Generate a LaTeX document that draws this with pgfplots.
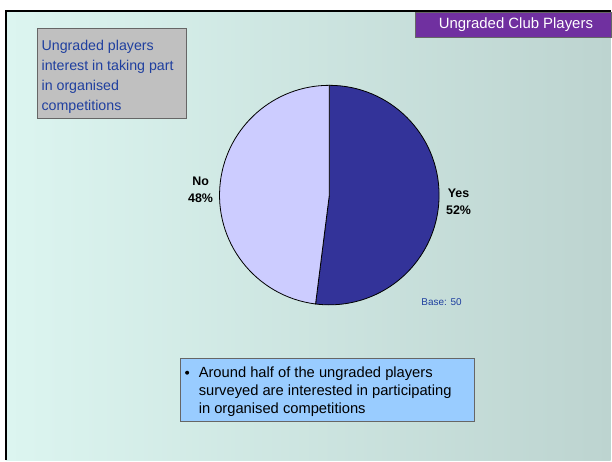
\documentclass[border=0pt]{standalone}
\usepackage{pgfplots}
\pgfplotsset{compat=1.18}
\usepackage{pgfplotstable}
\usepackage{fontspec}
\setmainfont{Liberation Sans}
\definecolor{bgL}{HTML}{DCF5F0}
\definecolor{bgR}{HTML}{BDD4D0}
\definecolor{purp}{HTML}{7030A0}
\definecolor{yescol}{HTML}{333399}
\definecolor{nocol}{HTML}{CCCCFF}
\definecolor{txtblue}{HTML}{1F3F9F}
\definecolor{boxblue}{HTML}{99CCFF}
\definecolor{boxgray}{HTML}{C0C0C0}
\pgfplotstableread{
label value
Yes 52
No 48
}\piedata
\begin{document}
\begin{tikzpicture}[x=1bp,y=-1bp]
\pgfplotstablegetelem{0}{value}\of\piedata \edef\yesv{\pgfplotsretval}
\pgfplotstablegetelem{1}{value}\of\piedata \edef\nov{\pgfplotsretval}
\pgfmathsetmacro\aend{90-3.6*\yesv}
\pgfmathsetmacro\ayes{-3.6*\yesv}
\pgfmathsetmacro\ano{-3.6*\nov}
\fill[white] (0,0) rectangle (612,461);
\shade[left color=bgL,right color=bgR] (6,11) rectangle (612,461);
\draw[black,line width=2bp] (6,461) -- (6,11) -- (612,11);
% title box
\filldraw[fill=purp,draw=black!60,line width=0.6bp] (416,12) rectangle (613,37);
\node[text=white,font=\fontsize{15}{18}\selectfont,inner sep=0] at (517,24.5) {Ungraded Club Players};
% gray box
\filldraw[fill=boxgray,draw=black!60,line width=0.8bp] (37,28) rectangle (187,119);
\node[anchor=north west,align=left,inner sep=0,text=txtblue,font=\fontsize{14.3}{20}\selectfont] at (41.5,40) {Ungraded players\\interest in taking part\\in organised\\competitions};
% pie
\begin{axis}[at={(330bp,-195.5bp)},anchor=origin,x=110bp,y=110bp,hide axis,
  xmin=-1,xmax=1,ymin=-1,ymax=1,clip=false]
\filldraw[fill=yescol,draw=black,line width=0.8bp] (axis cs:0,0) -- (axis cs:0,1)
  arc[start angle=90,delta angle=\ayes,radius=110bp] -- cycle;
\filldraw[fill=nocol,draw=black,line width=0.8bp] (axis cs:0,0) -- (axis cs:{cos(\aend)},{sin(\aend)})
  arc[start angle=\aend,delta angle=\ano,radius=110bp] -- cycle;
\end{axis}
\node[align=center,font=\bfseries\fontsize{12.5}{17}\selectfont] at (201,190) {No\\48\%};
\node[align=center,font=\bfseries\fontsize{12.5}{17}\selectfont] at (459.5,202) {Yes\\52\%};
\node[text=txtblue,font=\fontsize{10}{12}\selectfont,inner sep=0] at (442.5,303) {Base: 50};
% bullet box
\filldraw[fill=boxblue,draw=black!60,line width=0.8bp] (181,359) rectangle (475,422);
\node[anchor=north west,align=left,inner sep=0,font=\fontsize{14.8}{18}\selectfont] at (199,367.5) {Around half of the ungraded players\\surveyed are interested in participating\\in organised competitions};
\fill[black] (187.5,373.5) circle (2bp);
\end{tikzpicture}
\end{document}
